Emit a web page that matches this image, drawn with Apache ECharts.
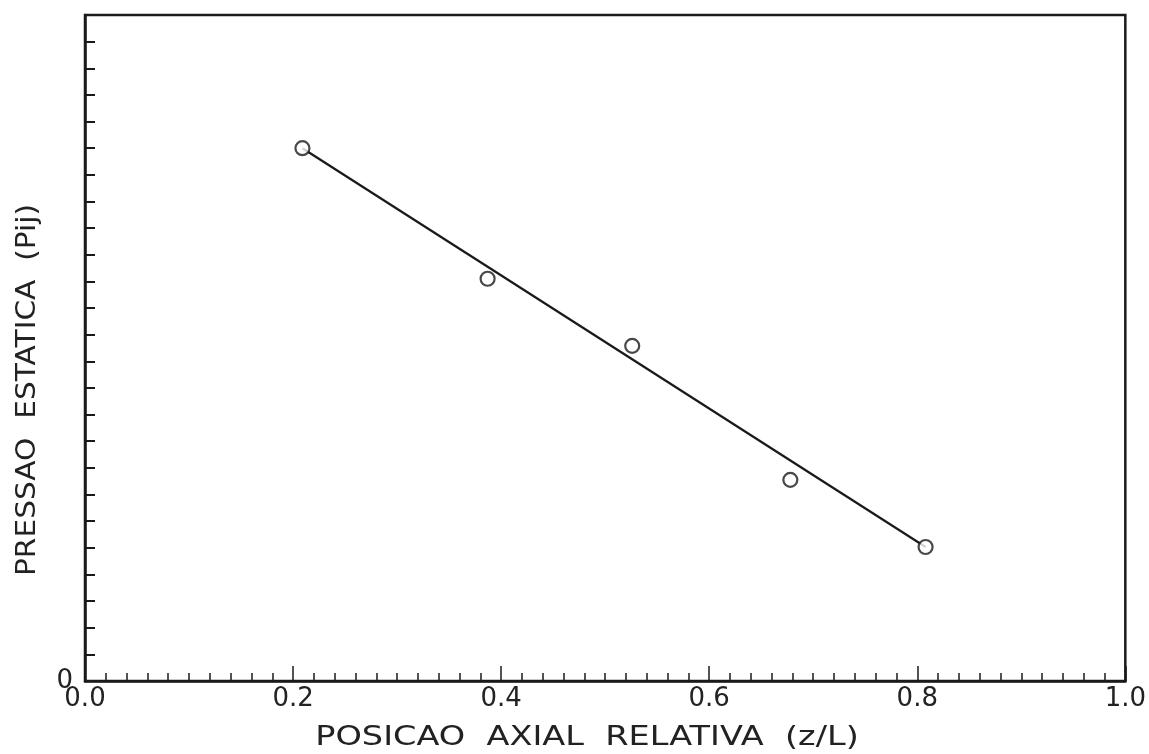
<!DOCTYPE html>
<html>
<head>
<meta charset="utf-8">
<script src="https://cdn.jsdelivr.net/npm/echarts@6/dist/echarts.min.js"></script>
<style>
  html, body { margin: 0; padding: 0; background: #fff; }
  #chart { width: 1149px; height: 754px; }
</style>
</head>
<body>
<div id="chart"></div>
<script>
// Measured static pressure along the relative axial position
const posicao = [0.209, 0.387, 0.526, 0.678, 0.808];
const pressao = [20.0, 15.1, 12.58, 7.55, 5.03];

// Fitted straight line (end points)
const ajusteX = [0.209, 0.808];
const ajusteY = [20.0, 5.03];

const xTicks = ['0.0', '0.2', '0.4', '0.6', '0.8', '1.0'];

const FONT = 'DejaVu Sans';
const INK = '#1a1a1a';

const chart = echarts.init(document.getElementById('chart'), null, { renderer: 'canvas' });

chart.setOption({
  animation: false,
  backgroundColor: '#fff',
  grid: {
    left: 85, right: 23, top: 15, bottom: 73,
    show: true, borderColor: INK, borderWidth: 2.5, backgroundColor: 'transparent'
  },
  xAxis: {
    type: 'value',
    min: 0, max: 1, interval: 0.2,
    axisLine: { show: true, lineStyle: { color: INK, width: 2.5 } },
    axisTick: { show: true, inside: true, length: 15, lineStyle: { color: INK, width: 1.5 } },
    minorTick: { show: true, splitNumber: 10, length: 8, lineStyle: { color: INK, width: 1.5 } },
    splitLine: { show: false },
    axisLabel: {
      margin: 5,
      fontFamily: FONT, fontSize: 26, color: '#222',
      formatter: function (v) { return xTicks[Math.round(v / 0.2)]; }
    }
  },
  yAxis: {
    type: 'value',
    min: 0, max: 25, interval: 1,
    axisLine: { show: true, lineStyle: { color: INK, width: 2.5 } },
    axisTick: { show: true, inside: true, length: 10, lineStyle: { color: INK, width: 2 } },
    splitLine: { show: false },
    axisLabel: {
      margin: 12,
      fontFamily: FONT, fontSize: 26, color: '#222',
      formatter: function (v) { return v === 0 ? '0' : ''; }
    }
  },
  graphic: [
    {
      type: 'text',
      position: [587, 738], scaleX: 1.29,
      style: {
        text: 'POSICAO  AXIAL  RELATIVA  (z/L)',
        font: '26px "' + FONT + '"', fill: '#222',
        textAlign: 'center', textVerticalAlign: 'middle'
      }
    },
    {
      type: 'text',
      position: [28, 390], rotation: Math.PI / 2, scaleX: 1.14,
      style: {
        text: 'PRESSAO  ESTATICA  (Pij)',
        font: '26px "' + FONT + '"', fill: '#222',
        textAlign: 'center', textVerticalAlign: 'middle'
      }
    }
  ],
  series: [
    {
      type: 'line',
      data: ajusteX.map(function (x, i) { return [x, ajusteY[i]]; }),
      showSymbol: false,
      lineStyle: { color: INK, width: 2.2 },
      z: 2
    },
    {
      type: 'scatter',
      data: posicao.map(function (x, i) { return [x, pressao[i]]; }),
      symbol: 'circle',
      symbolSize: 14,
      itemStyle: { color: '#fff', borderColor: INK, borderWidth: 2.2 },
      z: 3
    }
  ]
});
</script>
</body>
</html>
